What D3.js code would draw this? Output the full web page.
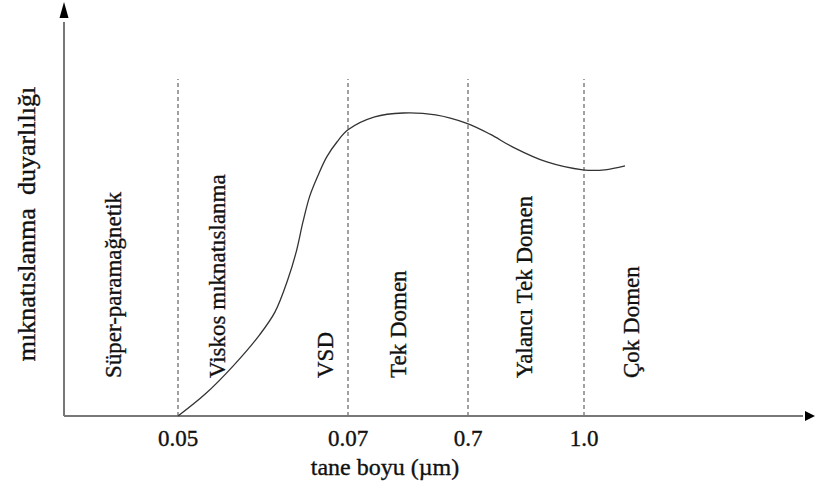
<!DOCTYPE html>
<html>
<head>
<meta charset="utf-8">
<script src="https://cdn.jsdelivr.net/npm/d3@7"></script>
<style>
  html, body { margin: 0; padding: 0; background: #ffffff; }
  svg { display: block; }
  text { font-family: "Liberation Serif", "Times New Roman", serif; fill: #111; stroke: #111; stroke-width: 0.35px; }
</style>
</head>
<body>
<svg id="chart" width="815" height="495"></svg>
<script>
// Grain-size boundaries (µm) and their tick labels
const boundaries = [0.05, 0.07, 0.7, 1.0];
const tickLabels = ["0.05", "0.07", "0.7", "1.0"];

// Magnetic domain state names, one per region
const regionNames = ["Süper-paramağnetik", "Viskos mıknatıslanma", "VSD", "Tek Domen", "Yalancı Tek Domen", "Çok Domen"];

// Susceptibility curve (grain size in µm, relative susceptibility)
const curveSize = [0.05, 0.0532, 0.0565, 0.0596, 0.0614, 0.0629, 0.0639, 0.0647, 0.0655, 0.0665, 0.0675, 0.0687, 0.07, 0.21, 0.36, 0.53, 0.69, 0.757, 0.816, 0.904, 0.997, 1.054, 1.106];
const curveChi  = [0, 5.6, 12.8, 20.7, 26.5, 34.7, 41.8, 49.5, 56.1, 61.5, 66.1, 69.9, 73.0, 76.3, 77.3, 76.8, 74.7, 71.9, 68.6, 64.8, 62.8, 62.8, 63.8];

const xTitle = "tane boyu (µm)";
const yTitle = "mıknatıslanma  duyarlılığı";

// ---- layout ----
const originX = 64, originY = 416, yTop = 24;
const boundaryTop = 86;               // height of the dashed boundary lines (chi units)

const svg = d3.select("#chart");

// Schematic, piecewise grain-size axis
const x = d3.scaleLinear().domain(boundaries).range([178, 348, 468, 584]);
const y = d3.scaleLinear().domain([0, 100]).range([originY, yTop]);

// Dashed region boundaries
svg.append("g").selectAll("line")
  .data(boundaries)
  .join("line")
  .attr("x1", d => x(d)).attr("x2", d => x(d))
  .attr("y1", y(0)).attr("y2", y(boundaryTop))
  .attr("stroke", "#555").attr("stroke-width", 1.1)
  .attr("stroke-dasharray", "4,3");

// Axes with arrows
svg.append("line")
  .attr("x1", originX).attr("y1", originY)
  .attr("x2", 803).attr("y2", originY)
  .attr("stroke", "#777").attr("stroke-width", 2);
svg.append("path")
  .attr("d", `M805,${originY - 5} L815,${originY} L805,${originY + 5} Z`)
  .attr("fill", "#000");

svg.append("line")
  .attr("x1", originX).attr("y1", originY)
  .attr("x2", originX).attr("y2", 22)
  .attr("stroke", "#777").attr("stroke-width", 2);
svg.append("path")
  .attr("d", `M${originX - 4.5},18 L${originX},2 L${originX + 4.5},18 Z`)
  .attr("fill", "#000");

// Tick labels at the boundaries
svg.append("g").selectAll("text")
  .data(boundaries)
  .join("text")
  .attr("x", d => x(d)).attr("y", 446)
  .attr("text-anchor", "middle")
  .attr("font-size", 23)
  .text((d, i) => tickLabels[i]);

// Axis titles
svg.append("text")
  .attr("x", 385).attr("y", 475)
  .attr("text-anchor", "middle")
  .attr("font-size", 24)
  .text(xTitle);

svg.append("text")
  .attr("transform", `translate(35,224) rotate(-90)`)
  .attr("text-anchor", "middle")
  .attr("font-size", 26)
  .style("white-space", "pre")
  .attr("xml:space", "preserve")
  .text(yTitle);

// Region names, rotated; offsets are baseline positions relative to the nearest boundary
const labelAnchor = [
  { b: 0, dx: -57 },
  { b: 0, dx: 47 },
  { b: 1, dx: -15 },
  { b: 1, dx: 58 },
  { b: 2, dx: 64 },
  { b: 3, dx: 55 }
];
svg.append("g").selectAll("text")
  .data(regionNames)
  .join("text")
  .attr("transform", (d, i) => `translate(${x(boundaries[labelAnchor[i].b]) + labelAnchor[i].dx},378) rotate(-90)`)
  .attr("text-anchor", "start")
  .attr("font-size", 23)
  .text(d => d);

// Susceptibility curve
const pts = curveSize.map((s, i) => [s, curveChi[i]]);
svg.append("path")
  .datum(pts)
  .attr("fill", "none")
  .attr("stroke", "#333")
  .attr("stroke-width", 1.3)
  .attr("d", d3.line().x(d => x(d[0])).y(d => y(d[1])).curve(d3.curveCatmullRom.alpha(0.5)));
</script>
</body>
</html>
